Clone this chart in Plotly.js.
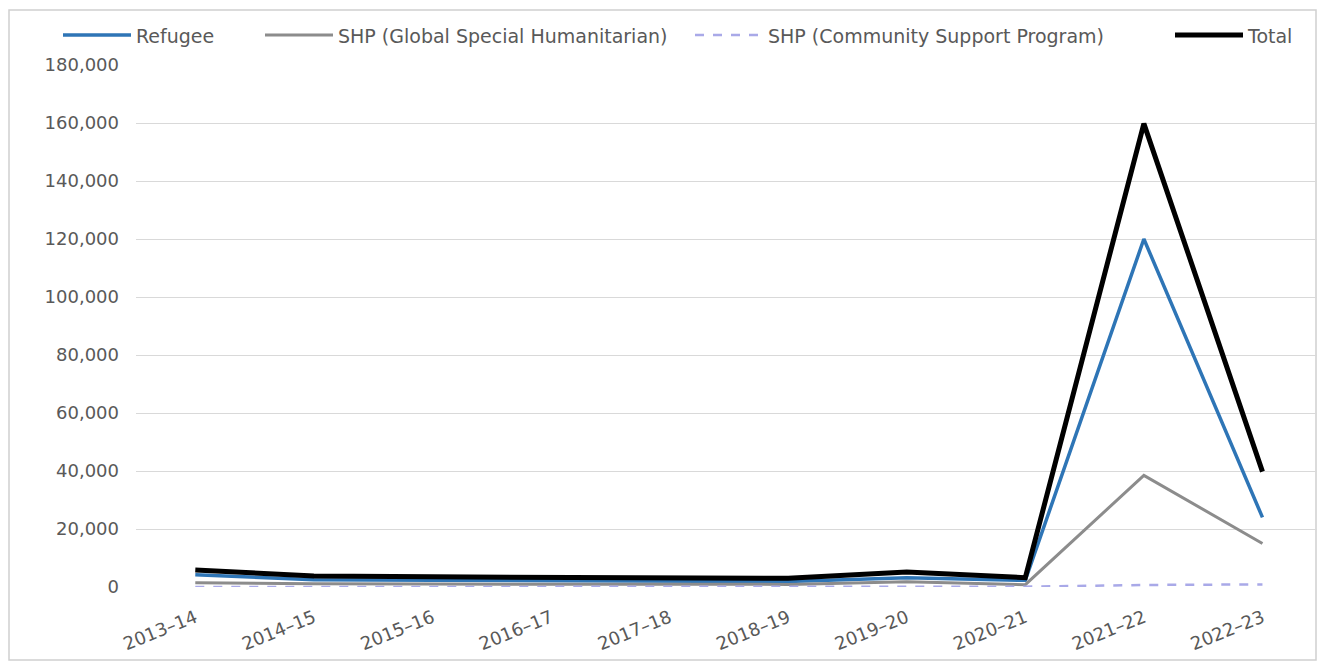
<!DOCTYPE html>
<html>
<head>
<meta charset="utf-8">
<script src="https://cdn.plot.ly/plotly-3.0.1.min.js"></script>
<style>html,body{margin:0;padding:0;background:#fff;}#chart{width:1317px;height:666px;}</style>
</head>
<body>
<div id="chart"></div>
<script>
const categories = ["2013–14","2014–15","2015–16","2016–17","2017–18","2018–19","2019–20","2020–21","2021–22","2022–23"];
const refugee   = [4200, 2500, 2300, 2200, 1800, 1900, 3200, 2300, 120000, 24000];
const shpGlobal = [1500, 1100, 1000,  900,  800,  900, 1800,  800,  38500, 15000];
const shpCSP    = [   0,    0,    0,    0,    0,    0,    0,  100,    700,   900];
const total     = [5900, 3800, 3500, 3300, 2800, 3000, 5200, 3200, 159800, 39800];
const seriesNames = ["Refugee","SHP (Global Special Humanitarian)","SHP (Community Support Program)","Total"];

const FONT = "DejaVu Sans, Verdana, sans-serif";
const TXT = "#595959";

const traces = [
  {x: categories, y: refugee, name: seriesNames[0], type: "scatter", mode: "lines",
   line: {color: "#2e75b6", width: 3.5}, legend: "legend"},
  {x: categories, y: shpGlobal, name: seriesNames[1], type: "scatter", mode: "lines",
   line: {color: "#8c8c8c", width: 3}, legend: "legend2"},
  {x: categories, y: shpCSP, name: seriesNames[2], type: "scatter", mode: "lines",
   line: {color: "#a9a9e8", width: 2.5, dash: "dash"}, legend: "legend3"},
  {x: categories, y: total, name: seriesNames[3], type: "scatter", mode: "lines",
   line: {color: "#000000", width: 5}, legend: "legend4"}
];

function leg(x) {
  return {orientation: "h", x: x, y: 1.057, xanchor: "left", yanchor: "middle",
          font: {family: FONT, size: 19, color: TXT}, itemwidth: 68,
          bgcolor: "rgba(0,0,0,0)", borderwidth: 0};
}
const W = 1181;
const px = v => (v - 136) / W;

const layout = {
  width: 1317, height: 666,
  margin: {l: 136, r: 0, t: 65, b: 79},
  paper_bgcolor: "#ffffff", plot_bgcolor: "#ffffff",
  font: {family: FONT, size: 18, color: TXT},
  showlegend: true,
  legend: leg(px(58)),
  legend2: leg(px(260)),
  legend3: leg(px(690)),
  legend4: leg(px(1170)),
  xaxis: {type: "category", range: [-0.5, 9.46], showgrid: false, zeroline: false,
          showline: false, ticks: "", tickangle: -22, ticklabelstandoff: 16,
          tickfont: {family: FONT, size: 18, color: TXT}},
  yaxis: {range: [0, 180000], dtick: 20000, tickformat: ",d", showgrid: true,
          gridcolor: "#d9d9d9", gridwidth: 1, zeroline: false, showline: false,
          ticks: "", ticklabelstandoff: 16, tickfont: {family: FONT, size: 18, color: TXT}},
  shapes: [
    {type: "rect", xref: "paper", yref: "paper", x0: px(9), x1: px(1316),
     y0: (587 - 660) / 522, y1: (587 - 10) / 522,
     line: {color: "#d0d0d0", width: 1.5}, fillcolor: "rgba(0,0,0,0)", layer: "below"}
  ]
};

Plotly.newPlot("chart", traces, layout, {displayModeBar: false, staticPlot: true});
</script>
</body>
</html>
